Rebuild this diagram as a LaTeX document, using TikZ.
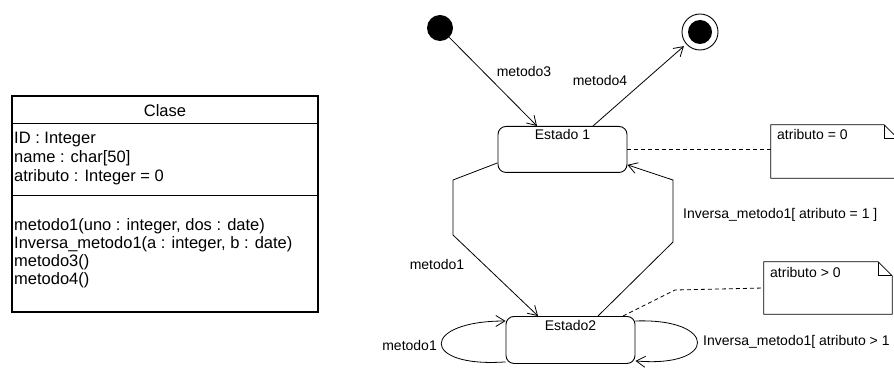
\documentclass[tikz,border=0pt]{standalone}
\usepackage{fontspec}
\setmainfont{Liberation Sans}
\usetikzlibrary{arrows.meta,calc}
\begin{document}
\begin{tikzpicture}[x=1pt,y=-1pt,
  cf/.style={font=\fontsize{16.5}{18}\selectfont, inner sep=0pt},
  sf/.style={font=\fontsize{14}{16}\selectfont, inner sep=0pt},
  statebox/.style={draw, line width=0.9pt, rounded corners=8pt, minimum width=129pt, inner xsep=0pt, inner ysep=3pt, text height=13pt, text depth=33pt, anchor=north, sf},
  trans/.style={draw, line width=0.8pt, -{Straight Barb[length=9pt,width=11pt]}},
  anchorline/.style={draw, line width=0.8pt, dash pattern=on 4pt off 3pt},
  notebox/.style={inner sep=0pt},
  noteline/.style={draw, line width=0.8pt},
]
\useasboundingbox (0,0) rectangle (894,371);
\fill[white] (0,0) rectangle (894,371);
\clip (0,0) rectangle (894,371);

% ---------- class box ----------
\node[draw, line width=1.2pt, minimum width=306pt, minimum height=216pt, inner sep=0pt] (cls) at (165,204) {};
\draw[line width=1pt] ($(cls.north west)+(0,28)$) -- ($(cls.north east)+(0,28)$);
\draw[line width=1pt] ($(cls.north west)+(0,100)$) -- ($(cls.north east)+(0,100)$);
\node[cf, anchor=base] (ctitle) at (165,117) {Clase};
\node[cf, anchor=base west] (a1) at (14,144) {ID : Integer};
\node[cf, anchor=base west] (a2) at (14,163) {name : char[50]};
\node[cf, anchor=base west] (a3) at (14,182) {atributo : Integer = 0};
\node[cf, anchor=base west] (m1) at (14,231) {metodo1(uno : integer, dos : date)};
\node[cf, anchor=base west] (m2) at (14,249) {Inversa\_metodo1(a : integer, b : date)};
\node[cf, anchor=base west] (m3) at (14,267) {metodo3()};
\node[cf, anchor=base west] (m4) at (14,285) {metodo4()};

% ---------- states ----------
\node[circle, fill=black, minimum size=26pt, inner sep=0pt] (init) at (440,28) {};
\node[circle, draw, line width=0.9pt, minimum size=36pt, inner sep=0pt] (final) at (700,32) {};
\node[circle, fill=black, minimum size=24pt, inner sep=0pt] (finalin) at (700,32) {};

\node[statebox] (e1) at (562.5,126) {Estado 1};
\node[statebox, text height=14pt] (e2) at (570.5,316) {Estado2};

% ---------- transitions ----------
\path[trans] (init) -- ($(e1.north)+(-25.5,0)$);
\path[trans, shorten >=3pt] ($(e1.north)+(30.5,0)$) -- (final);
\path[trans] ($(e1.south west)+(0,-10)$) -- (453,180) -- (453,235) -- ($(e2.north)+(-32.5,0)$);
\path[trans] ($(e2.north)+(27.5,0)$) -- (673,242) -- (673,180) -- ($(e1.south east)+(0,-8)$);
\path[trans] ($(e2.south west)+(0,-2)$) .. controls (420,368) and (420,321) .. ($(e2.north west)+(0,5)$);
\path[trans] ($(e2.north east)+(0,5)$) .. controls (718,318) and (718,368) .. ($(e2.south east)+(0,-3)$);

\node[sf, anchor=base] (l3) at (524,77) {metodo3};
\node[sf, anchor=base] (l4) at (600,86) {metodo4};
\node[sf, anchor=base] (l1) at (437,270) {metodo1};
\node[sf, anchor=base west] (li1) at (683,219) {Inversa\_metodo1[ atributo = 1 ]};
\node[sf, anchor=base east] (ll) at (437,350) {metodo1};
\node[sf, anchor=base west] (lr) at (703,345) {Inversa\_metodo1[ atributo > 1};

% ---------- notes ----------
\node[notebox, minimum width=127pt, minimum height=53pt] (n1) at (834.5,151.5) {};
\path[noteline] (n1.north west) -- ($(n1.north east)+(-14,0)$) -- ($(n1.north east)+(0,14)$) -- (n1.south east) -- (n1.south west) -- cycle;
\path[noteline] ($(n1.north east)+(-14,0)$) -- ($(n1.north east)+(-14,14)$) -- ($(n1.north east)+(0,14)$);
\node[sf, anchor=base west] (t1) at (777,140) {atributo = 0};

\node[notebox, minimum width=128pt, minimum height=52pt] (n2) at (828,288) {};
\path[noteline] (n2.north west) -- ($(n2.north east)+(-14,0)$) -- ($(n2.north east)+(0,14)$) -- (n2.south east) -- (n2.south west) -- cycle;
\path[noteline] ($(n2.north east)+(-14,0)$) -- ($(n2.north east)+(-14,14)$) -- ($(n2.north east)+(0,14)$);
\node[sf, anchor=base west] (t2) at (770,278) {atributo > 0};

\path[anchorline] (e1.east) -- (e1.east -| n1.west);
\path[anchorline] ($(e2.north)+(52.5,0)$) -- (675,290) -- (n2.west);
\end{tikzpicture}
\end{document}
